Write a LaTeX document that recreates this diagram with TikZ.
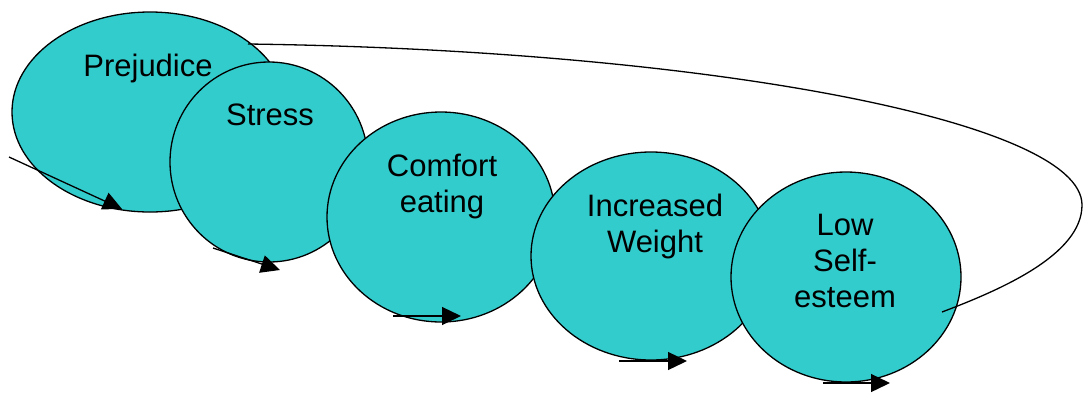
\documentclass[tikz,border=0pt]{standalone}
\usepackage{fontspec}
\setmainfont{Liberation Sans}
\usetikzlibrary{shapes.geometric,arrows.meta}
\definecolor{bubblefill}{RGB}{51,204,204}
\begin{document}
\begin{tikzpicture}[x=1pt,y=-1pt,
  bubble/.style={ellipse,draw=black,line width=1.3pt,fill=bubblefill,inner sep=0pt},
  lbl/.style={font=\fontsize{31}{36}\selectfont,align=center,anchor=base,inner sep=0pt},
  flow/.style={line width=1.3pt,-{Triangle[length=19pt,width=18pt]}},
  cycleline/.style={line width=1.3pt}]
\useasboundingbox (0,0) rectangle (1084,392);
\node[bubble,minimum width=276pt,minimum height=200pt] (pre) at (150,112) {};
\node[bubble,minimum width=198pt,minimum height=200pt] (str) at (269,162) {};
\node[bubble,minimum width=228pt,minimum height=210pt] (com) at (441,217) {};
\node[bubble,minimum width=240pt,minimum height=208pt] (inc) at (651,256) {};
\node[bubble,minimum width=230pt,minimum height=210pt] (low) at (846,277) {};
\node[lbl] (tpre) at (148,76) {Prejudice};
\node[lbl] (tstr) at (270,125) {Stress};
\node[lbl] (tcom) at (442,212) {Comfort\\eating};
\node[lbl] (tinc) at (655,252) {Increased\\Weight};
\node[lbl] (tlow) at (845,307) {Low\\Self-\\esteem};
\coordinate (s1) at (9,157);   \coordinate (e1) at (122,209);
\coordinate (s2) at (213,248); \coordinate (e2) at (280,270);
\coordinate (s3) at (393,316); \coordinate (e3) at (461,316);
\coordinate (s4) at (619,361); \coordinate (e4) at (687,361);
\coordinate (s5) at (823,383); \coordinate (e5) at (890,383);
\draw[flow] (s1) -- (e1);
\draw[flow] (s2) -- (e2);
\draw[flow] (s3) -- (e3);
\draw[flow] (s4) -- (e4);
\draw[flow] (s5) -- (e5);
\coordinate (ls) at (248,44);
\coordinate (lr) at (1082,205);
\coordinate (le) at (942,312);
\draw[cycleline] (ls) .. controls (700,50) and (1082,120) .. (lr) .. controls (1082,255) and (1000,290) .. (le);
\end{tikzpicture}
\end{document}
